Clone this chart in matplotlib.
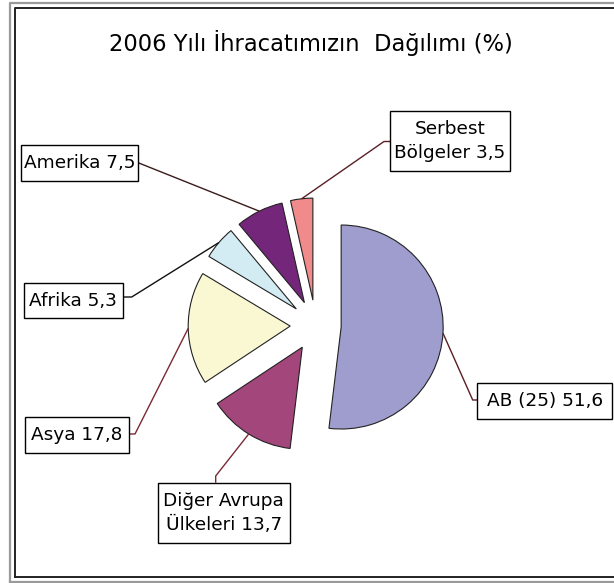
import math
import matplotlib
matplotlib.use('Agg')
import matplotlib.pyplot as plt
from matplotlib.patches import Rectangle

# veriler
bolgeler = ['AB (25)', 'Diğer Avrupa\nÜlkeleri', 'Asya', 'Afrika', 'Amerika', 'Serbest\nBölgeler']
paylar = [51.6, 13.7, 17.8, 5.3, 7.5, 3.5]
renkler = ['#9E9DCD', '#A3467B', '#FAF8D3', '#D3ECF3', '#74267B', '#F08A8B']
baslik = '2006 Yılı İhracatımızın  Dağılımı (%)'

W, H = 614, 583
R = 102.0


def py(y):  # ekran y (yukaridan) -> veri y
    return H - y


fig = plt.figure(figsize=(W / 100, H / 100), dpi=100)
ax = fig.add_axes([0, 0, 1, 1])

wedges, _ = ax.pie(paylar, colors=renkler, startangle=90, counterclock=False,
                   center=(315.7, py(325.5)), radius=R, explode=[0.25 * R] * len(paylar),
                   wedgeprops=dict(edgecolor='#222222', linewidth=0.8), frame=True)
ax.set_xlim(0, W)
ax.set_ylim(0, H)
ax.axis('off')

# cerceve
ax.plot([10, 10, W + 5], [py(H + 5), py(3), py(3)], color='#9a9a9a', lw=1.6)
ax.plot([10, W + 5], [py(582), py(582)], color='#9a9a9a', lw=1.6)
ax.plot([15, 15, W + 5], [py(577), py(8), py(8)], color='#222222', lw=1.4)
ax.plot([15, W + 5], [py(577), py(577)], color='#222222', lw=1.4)

ax.text(310.5, py(50.5), baslik, fontsize=16.3, ha='center', va='baseline')

# etiket kutulari: (x0, x1, y0, y1) ve cizgi baglanti noktalari
kutular = [(477.3, 612, 383, 419), (157.7, 290, 482.7, 543.3), (25, 129.3, 417.3, 452.7),
           (24, 122.7, 283.3, 318.3), (20.7, 138.3, 145, 180.7), (390, 510, 111, 171)]
baglanti = [[(477.3, 400), (472.7, 400)],
            [(215.7, 482.7), (215.7, 476)],
            [(129.3, 434), (135, 434)],
            [(122.7, 297), (131.7, 297)],
            [(138.3, 162.8)],
            [(390, 141.5), (384, 141.5)]]
cizgi_renk = ['#5a1e24', '#7a2a35', '#7a2a35', '#111111', '#3a1a1a', '#5a1e24']

for w, ad, deger, kutu, bag, cr in zip(wedges, bolgeler, paylar, kutular, baglanti, cizgi_renk):
    tm = math.radians((w.theta1 + w.theta2) / 2)
    ux = w.center[0] + w.r * math.cos(tm)
    uy = w.center[1] + w.r * math.sin(tm)
    xs = [p[0] for p in bag] + [ux]
    ys = [py(p[1]) for p in bag] + [uy]
    ax.plot(xs, ys, color=cr, lw=1.0, solid_capstyle='butt')
    x0, x1, y0, y1 = kutu
    ax.add_patch(Rectangle((x0, py(y1)), x1 - x0, y1 - y0, facecolor='white',
                           edgecolor='black', lw=1.0, zorder=3))
    metin = ad + ' ' + ('%.1f' % deger).replace('.', ',')
    ax.text((x0 + x1) / 2, py((y0 + y1) / 2), metin, fontsize=13.3, ha='center',
            va='center', linespacing=1.4, zorder=4)

fig.savefig('out.png', dpi=100)
